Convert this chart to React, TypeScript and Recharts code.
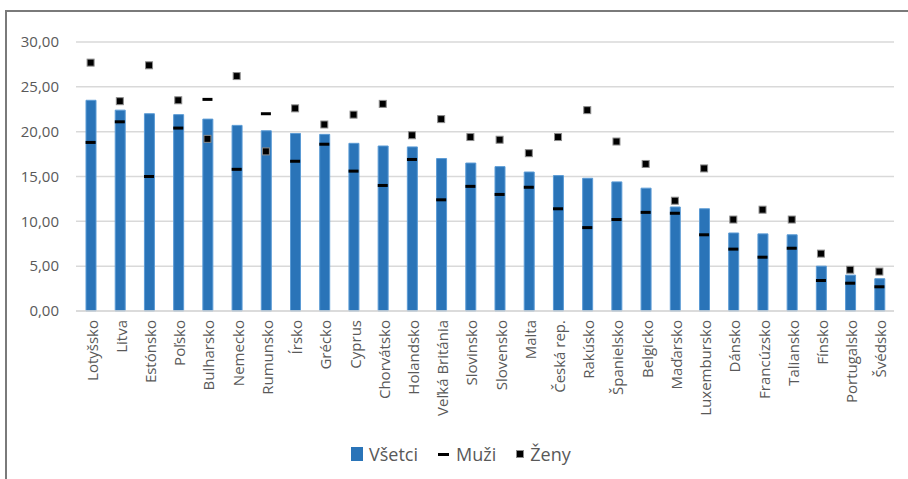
import { ComposedChart, Bar, Line, XAxis, YAxis, CartesianGrid } from "recharts";

const countries = [
  "Lotyšsko", "Litva", "Estónsko", "Poľsko", "Bulharsko", "Nemecko", "Rumunsko",
  "Írsko", "Grécko", "Cyprus", "Chorvátsko", "Holandsko", "Veľká Británia",
  "Slovinsko", "Slovensko", "Malta", "Česká rep.", "Rakúsko", "Španielsko",
  "Belgicko", "Maďarsko", "Luxembursko", "Dánsko", "Francúzsko", "Taliansko",
  "Fínsko", "Portugalsko", "Švédsko",
];

const vsetci = [
  23.5, 22.4, 22.0, 21.9, 21.4, 20.7, 20.1, 19.8, 19.7, 18.7, 18.4, 18.3, 17.0,
  16.5, 16.1, 15.5, 15.1, 14.8, 14.4, 13.7, 11.6, 11.4, 8.7, 8.6, 8.5, 5.0, 4.0, 3.6,
];

const muzi = [
  18.8, 21.1, 15.0, 20.4, 23.6, 15.8, 22.0, 16.7, 18.6, 15.6, 14.0, 16.9, 12.4,
  13.9, 13.0, 13.8, 11.4, 9.3, 10.2, 11.0, 10.9, 8.5, 6.9, 6.0, 7.0, 3.4, 3.1, 2.7,
];

const zeny = [
  27.7, 23.4, 27.4, 23.5, 19.2, 26.2, 17.8, 22.6, 20.8, 21.9, 23.1, 19.6, 21.4,
  19.4, 19.1, 17.6, 19.4, 22.4, 18.9, 16.4, 12.3, 15.9, 10.2, 11.3, 10.2, 6.4, 4.6, 4.4,
];

const yTicks = [0, 5, 10, 15, 20, 25, 30];

const data = countries.map((name, i) => ({
  name,
  vsetci: vsetci[i],
  muzi: muzi[i],
  zeny: zeny[i],
}));

const textColor = "#595959";
const font = "'Open Sans', sans-serif";

const fmt = (v: number) => v.toFixed(2).replace(".", ",");

function CountryTick(props: any) {
  const { x, y, payload } = props;
  return (
    <text
      transform={`translate(${x + 1},${y + 1}) rotate(-90)`}
      textAnchor="end"
      dominantBaseline="central"
      fill={textColor}
      fontSize={15}
      fontFamily={font}
    >
      {payload.value}
    </text>
  );
}

const muziDot = (props: any) => {
  const { cx, cy, index } = props;
  if (cx == null || cy == null) return <g key={`m${index}`} />;
  return <rect key={`m${index}`} x={cx - 5} y={cy - 1.5} width={10} height={3} fill="#000" />;
};

const zenyDot = (props: any) => {
  const { cx, cy, index } = props;
  if (cx == null || cy == null) return <g key={`z${index}`} />;
  return (
    <rect
      key={`z${index}`}
      x={cx - 3.5}
      y={cy - 3.5}
      width={7}
      height={7}
      fill="#000"
      stroke="#8c8c8c"
      strokeWidth={1}
    />
  );
};

export default function App() {
  return (
    <div
      style={{
        position: "absolute",
        left: 0,
        top: 0,
        width: 908,
        height: 479,
        overflow: "hidden",
        background: "#fff",
      }}
    >
      {/* frame */}
      <div
        style={{
          position: "absolute",
          left: 5,
          top: 10,
          width: 950,
          height: 520,
          borderLeft: "2px solid #7a7a7a",
          borderTop: "2px solid #7a7a7a",
        }}
      />

      <ComposedChart
        width={908}
        height={479}
        data={data}
        margin={{ top: 42, right: 14, left: 0, bottom: 0 }}
        barCategoryGap={0}
        style={{ position: "absolute", left: 0, top: 0 }}
      >
        <CartesianGrid vertical={false} stroke="#d9d9d9" strokeWidth={1.5} />

        <XAxis
          dataKey="name"
          interval={0}
          height={168}
          axisLine={{ stroke: "#d9d9d9", strokeWidth: 1.5 }}
          tickLine={false}
          tick={<CountryTick />}
        />

        <YAxis
          width={76}
          domain={[0, 30]}
          ticks={yTicks}
          tickFormatter={fmt}
          axisLine={false}
          tickLine={false}
          tickMargin={11}
          tick={{ fill: textColor, fontSize: 15, fontFamily: font }}
        />

        <Bar
          dataKey="vsetci"
          barSize={10}
          fill="#2a74b8"
          stroke="#5b9bd5"
          strokeWidth={1}
          isAnimationActive={false}
        />

        <Line
          dataKey="muzi"
          stroke="none"
          dot={muziDot}
          activeDot={false}
          isAnimationActive={false}
        />

        <Line
          dataKey="zeny"
          stroke="none"
          dot={zenyDot}
          activeDot={false}
          isAnimationActive={false}
        />
      </ComposedChart>

      {/* Legend */}
      <div
        style={{
          position: "absolute",
          top: 442,
          left: 351,
          display: "flex",
          alignItems: "center",
          fontFamily: font,
          fontSize: 18,
          color: textColor,
          whiteSpace: "nowrap",
        }}
      >
        <span style={{ width: 12, height: 14, background: "#2a74b8", marginRight: 6 }} />
        <span style={{ marginRight: 20 }}>Všetci</span>
        <span style={{ width: 11, height: 3, background: "#000", marginRight: 7 }} />
        <span style={{ marginRight: 20 }}>Muži</span>
        <span
          style={{
            width: 6,
            height: 6,
            background: "#000",
            border: "1px solid #8c8c8c",
            marginRight: 6,
          }}
        />
        <span>Ženy</span>
      </div>
    </div>
  );
}
